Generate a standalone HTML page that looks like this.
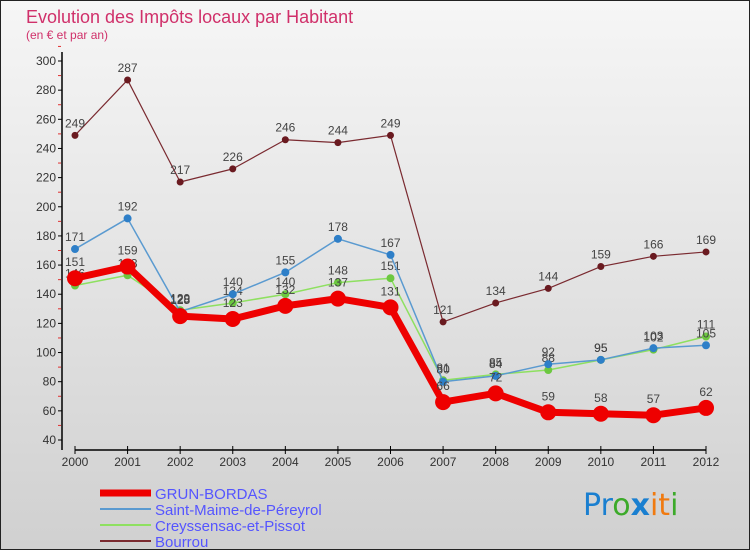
<!DOCTYPE html>
<html><head><meta charset="utf-8"><style>
body{margin:0;width:750px;height:550px;overflow:hidden;font-family:"Liberation Sans",sans-serif}
svg{display:block}
</style></head><body>
<svg id="c" width="750" height="550" xmlns="http://www.w3.org/2000/svg">
<defs><linearGradient id="bg" x1="0" y1="0" x2="0" y2="1"><stop offset="0" stop-color="#f6f6f6"/><stop offset="1" stop-color="#d0d0d0"/></linearGradient></defs>
<rect x="0.5" y="0.5" width="749" height="549" fill="url(#bg)" stroke="#222"/>
<text x="26" y="23" font-size="18" fill="#d0306a">Evolution des Impôts locaux par Habitant</text>
<text x="26" y="39" font-size="12" fill="#d0306a">(en € et par an)</text>
<g id="axes"></g><g id="series"></g><g id="legend"></g>
<text x="583" y="515" font-size="30" font-family="DejaVu Sans,sans-serif"><tspan fill="#1a7fd0">Pr</tspan><tspan fill="#3caa2a">o</tspan><tspan fill="#1a7fd0" font-weight="bold">x</tspan><tspan fill="#f07a10">it</tspan><tspan fill="#3caa2a">i</tspan></text>
</svg>
<script>
const years=["2000","2001","2002","2003","2004","2005","2006","2007","2008","2009","2010","2011","2012"];
const grun=[151,159,125,123,132,137,131,66,72,59,58,57,62];
const saint=[171,192,128,140,155,178,167,80,84,92,95,103,105];
const creys=[146,153,129,134,140,148,151,81,85,88,95,102,111];
const bourrou=[249,287,217,226,246,244,249,121,134,144,159,166,169];
const yTicks=[40,60,80,100,120,140,160,180,200,220,240,260,280,300];
const NS="http://www.w3.org/2000/svg";
const x=i=>75+i*(706-75)/12;
const y=v=>440-(v-40)*(440-61)/260;
function mk(t,a,p){const e=document.createElementNS(NS,t);for(const k in a)e.setAttribute(k,a[k]);p.appendChild(e);return e;}
const ax=document.getElementById('axes');
let e=mk('line',{x1:62,y1:52,x2:62,y2:450,stroke:'#000','stroke-width':1.5},ax);


e=mk('line',{x1:75,y1:450,x2:706,y2:450,stroke:'#000','stroke-width':1.5},ax);


yTicks.forEach(v=>{
 mk('line',{x1:58,y1:y(v),x2:62,y2:y(v),stroke:'#000'},ax);
 mk('line',{x1:58,y1:y(v+10),x2:61,y2:y(v+10),stroke:'#e03030'},ax);
 const t=mk('text',{x:56,y:y(v)+4,'font-size':12,'text-anchor':'end',fill:'#333'},ax);t.textContent=v;
 
 
});
years.forEach((yr,i)=>{
 mk('line',{x1:x(i),y1:446,x2:x(i),y2:454,stroke:'#000'},ax);
 const t=mk('text',{x:x(i),y:466,'font-size':12,'text-anchor':'middle',fill:'#333'},ax);t.textContent=yr;
 
 
});
const sg=document.getElementById('series');
const defs=[
 {d:bourrou,c:'#7a2a30',w:1.2,r:3.5,n:'bourrou'},
 {d:creys,c:'#8ee060',w:1.5,r:4,n:'creyssensac'},
 {d:saint,c:'#5a9ad0',w:1.5,r:4,n:'saint-maime'},
 {d:grun,c:'#ee0000',w:7,r:8,n:'grun-bordas'}];
const pc={bourrou:'#6a1a20',creyssensac:'#6cc840','saint-maime':'#2e7fc8','grun-bordas':'#ee0000'};
defs.forEach(s=>{
 const l=mk('polyline',{points:s.d.map((v,i)=>x(i)+','+y(v)).join(' '),fill:'none',stroke:s.c,'stroke-width':s.w,'stroke-linejoin':'round'},sg);
 
 
 s.d.forEach((v,i)=>{
  const p=mk('circle',{cx:x(i),cy:y(v),r:s.r,fill:pc[s.n]},sg);
  
  
  const t=mk('text',{x:x(i),y:y(v)-8-(s.r>5?4:0),'font-size':12,'text-anchor':'middle',fill:'#444'},sg);t.textContent=v;
  
  
 });
});
const lg=document.getElementById('legend');
const items=[['GRUN-BORDAS','#ee0000',7],['Saint-Maime-de-Péreyrol','#5a9ad0',2],['Creyssensac-et-Pissot','#8ee060',2],['Bourrou','#7a2a30',2]];
items.forEach((it,k)=>{
 const yy=493+k*16;
 const l=mk('line',{x1:100,y1:yy,x2:151,y2:yy,stroke:it[1],'stroke-width':it[2]},lg);
 
 
 const t=mk('text',{x:155,y:yy+6,'font-size':15,fill:'#5555ff'},lg);t.textContent=it[0];
 
 
});
</script>
</body></html>
